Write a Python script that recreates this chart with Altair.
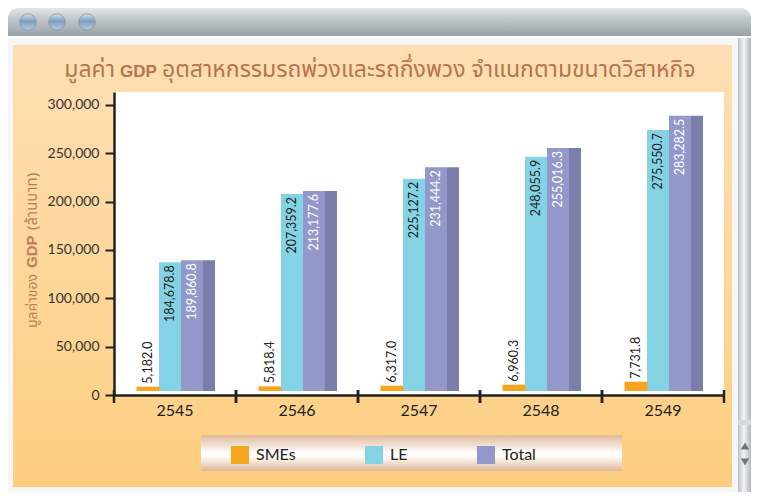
import altair as alt
import pandas as pd

# ---------------- data ----------------
years = ["2545", "2546", "2547", "2548", "2549"]
series = ["SMEs", "LE", "Total"]
colors = ["#F5A51E", "#84D3E5", "#9497C9"]
smes_label = [5182.0, 5818.4, 6317.0, 6960.3, 7731.8]
le_label = [184678.8, 207359.2, 225127.2, 248055.9, 275550.7]
total_label = [189860.8, 213177.6, 231444.2, 255016.3, 283282.5]
# bar heights as drawn in the picture
smes_bar = [4500, 4800, 5500, 6500, 9600]
le_bar = [133100, 203800, 219600, 242400, 270000]
total_bar = [135200, 206900, 231400, 251400, 284800]
y_ticks = [0, 50000, 100000, 150000, 200000, 250000, 300000]

title_parts = ["มูลค่า", "GDP", "อุตสาหกรรมรถพ่วงและรถกึ่งพวง จำแนกตามขนาดวิสาหกิจ"]
ytitle_parts = ["มูลค่าของ", "GDP", "(ล้านบาท)"]

rows = []
for i, yr in enumerate(years):
    for s, bars, labs in [("SMEs", smes_bar, smes_label), ("LE", le_bar, le_label),
                          ("Total", total_bar, total_label)]:
        rows.append({"year": yr, "series": s, "bar": bars[i], "label": f"{labs[i]:,.1f}"})
df = pd.DataFrame(rows)

# ---------------- layout helpers (page pixel coords -> plot coords) ----------------
OX, OY = 114, 92
W, H = 610, 303
THAI = "Noto Sans Thai, Noto Sans, sans-serif"
NUM = "Lato, sans-serif"
TITLE_C = "#B8744F"


def dummy():
    return alt.Chart(pd.DataFrame({"d": [0]}))


def grad(stops, vertical=True):
    return alt.Gradient(
        gradient="linear",
        stops=[alt.GradientStop(color=c, offset=o) for o, c in stops],
        x1=0, y1=0, x2=0 if vertical else 1, y2=1 if vertical else 0,
    )


def rect(x1, x2, y1, y2, fill, **kw):
    return dummy().mark_rect(fill=fill, **kw).encode(
        x=alt.value(x1 - OX), x2=alt.value(x2 - OX),
        y=alt.value(y1 - OY), y2=alt.value(y2 - OY))


def label(text, x, y, **kw):
    return dummy().mark_text(text=text, **kw).encode(x=alt.value(x - OX), y=alt.value(y - OY))


deco = []
# window frame
deco.append(rect(8, 751, 30, 492, "#F6F6F6"))
deco.append(rect(8, 751, 8, 36, grad([(0, "#E2E6E9"), (0.35, "#C4CBCF"), (1, "#98A1A7")]),
                 cornerRadiusTopLeft=10, cornerRadiusTopRight=10))
deco.append(rect(8, 751, 36, 38, "#FFFFFF"))
for cx in [28, 57, 87]:
    deco.append(dummy().mark_point(shape="circle", filled=True, size=270, opacity=1,
                                   fill=grad([(0, "#D6E4EF"), (0.45, "#7E9FBC"), (1, "#B5CADB")]),
                                   stroke="#8397A6", strokeWidth=0.8)
                .encode(x=alt.value(cx - OX), y=alt.value(22 - OY)))
# scrollbar
deco.append(rect(738, 751, 38, 492, grad([(0, "#B9C1C6"), (0.45, "#F3F5F6"), (1, "#AEB6BB")], vertical=False)))
deco.append(rect(738, 751, 420, 425, "#D3D9DC"))
deco.append(dummy().mark_point(shape="triangle-up", filled=True, size=70, color="#6E7478", opacity=1)
            .encode(x=alt.value(745 - OX), y=alt.value(446 - OY)))
deco.append(dummy().mark_point(shape="triangle-down", filled=True, size=70, color="#6E7478", opacity=1)
            .encode(x=alt.value(745 - OX), y=alt.value(462 - OY)))
# orange panel
deco.append(rect(13, 732, 45, 487, grad([(0, "#FEDFB3"), (0.12, "#FEDDAE"), (1, "#FDCE80")])))
# plot area
deco.append(rect(OX, OX + W, OY, OY + H, "#FFFFFF"))
# legend box
deco.append(rect(201, 622, 435, 471, grad([(0, "#E0B898"), (0.5, "#FFFFFF"), (0.6, "#FFFCF8"), (1, "#E0B898")])))

# titles
deco.append(label(title_parts[0], 115, 77, align="right", baseline="alphabetic", font=THAI,
                  fontSize=23, color=TITLE_C))
deco.append(label(title_parts[1], 138.5, 77, align="center", baseline="alphabetic",
                  font="Liberation Sans, sans-serif", fontWeight="bold", fontSize=17, color=TITLE_C))
deco.append(label(title_parts[2], 162, 77, align="left", baseline="alphabetic", font=THAI,
                  fontSize=23, color=TITLE_C))
YT_C = "#BF7E58"
deco.append(label(ytitle_parts[0], 37, 328, align="left", baseline="alphabetic", angle=270,
                  font=THAI, fontSize=14, color=YT_C))
deco.append(label(ytitle_parts[1], 37, 268, align="left", baseline="alphabetic", angle=270,
                  font="Liberation Sans, sans-serif", fontWeight="bold", fontSize=15, color=YT_C))
deco.append(label(ytitle_parts[2], 37, 230, align="left", baseline="alphabetic", angle=270,
                  font=THAI, fontSize=15, color=YT_C))

# ---------------- data layers ----------------
x_scale = alt.Scale(domain=years, paddingInner=0, paddingOuter=0)
y_scale = alt.Scale(domain=[0, 313448], nice=False)

x_axis = alt.Axis(labelAngle=0, labelFont=NUM, labelFontSize=16, labelColor="#222",
                  labelPadding=7, ticks=False, domainColor="#222", domainWidth=2.5,
                  title=None, zindex=1)
y_axis = alt.Axis(values=y_ticks, format=",d", labelFont=NUM, labelFontSize=14,
                  labelColor="#333", labelPadding=6, tickSize=9, tickWidth=2,
                  tickColor="#222", domainColor="#222", domainWidth=2.5, grid=False,
                  title=None, zindex=1)

color_enc = alt.Color("series:N", scale=alt.Scale(domain=series, range=colors),
                      legend=alt.Legend(orient="none", legendX=117, legendY=354,
                                        direction="horizontal", columns=3, title=None,
                                        symbolType="square", symbolSize=324,
                                        symbolStrokeWidth=0, symbolOpacity=1,
                                        labelFont=NUM, labelFontSize=16, labelColor="#222",
                                        labelOffset=7, columnPadding=69, padding=0,
                                        zindex=1))

base = alt.Chart(df)
X = alt.X("year:N", sort=years, scale=x_scale, axis=x_axis)
Y = alt.Y("bar:Q", scale=y_scale, axis=y_axis)

side = base.transform_filter(alt.datum.series == "Total").mark_bar(
    width=12, xOffset=34, yOffset=-4, y2Offset=-4, color="#7B7DAB").encode(x=X, y=Y)

offsets = {"SMEs": (-27, 23), "LE": (-5, 22), "Total": (17, 22)}
bars = []
for s in ["Total", "LE", "SMEs"]:
    off, w = offsets[s]
    bars.append(base.transform_filter(alt.datum.series == s).mark_bar(
        width=w, xOffset=off, yOffset=-4, y2Offset=-4).encode(x=X, y=Y, color=color_enc))

texts = []
texts.append(base.transform_filter(alt.datum.series == "SMEs").mark_text(
    angle=270, align="left", baseline="middle", dx=3, xOffset=-27, yOffset=-4,
    font=NUM, fontSize=12.5, color="#222").encode(x=X, y=Y, text="label:N"))
texts.append(base.transform_filter(alt.datum.series == "LE").mark_text(
    angle=270, align="right", baseline="middle", dx=-3, xOffset=-5, yOffset=-4,
    font=NUM, fontSize=12.5, color="#222").encode(x=X, y=Y, text="label:N"))
texts.append(base.transform_filter(alt.datum.series == "Total").mark_text(
    angle=270, align="right", baseline="middle", dx=-3, xOffset=17, yOffset=-4,
    font=NUM, fontSize=12.5, color="#FFFFFF").encode(x=X, y=Y, text="label:N"))

ticks = []
for bp in [0, 1]:
    ticks.append(base.transform_filter(alt.datum.series == "SMEs").mark_rule(
        color="#222", strokeWidth=2.5).encode(
        x=alt.X("year:N", sort=years, scale=x_scale, axis=x_axis, bandPosition=bp),
        y=alt.value(298), y2=alt.value(311)))

chart = alt.layer(*deco, side, *bars, *texts, *ticks).properties(
    width=W, height=H,
    autosize=alt.AutoSizeParams(type="none"),
    padding={"left": 106, "top": 84, "right": 27, "bottom": 97},
    background="#FFFFFF",
).configure_view(stroke=None, fill=None)

chart.save("out.html", embed_options={"renderer": "svg", "actions": False})
